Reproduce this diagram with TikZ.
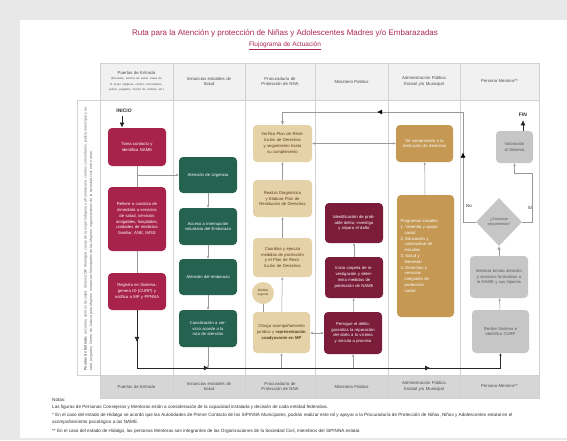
\documentclass[tikz,border=0pt]{standalone}
\usepackage{fontspec}
\setmainfont{Liberation Sans}
\usetikzlibrary{calc,shapes,arrows,arrows.meta,positioning,decorations.markings}

\definecolor{fondo}{RGB}{232,232,232}
\definecolor{titulo}{RGB}{172,40,82}
\definecolor{ruta}{RGB}{168,35,75}
\definecolor{verde}{RGB}{38,98,80}
\definecolor{arena}{RGB}{230,210,168}
\definecolor{marron}{RGB}{90,60,30}
\definecolor{oro}{RGB}{197,152,84}
\definecolor{vino}{RGB}{122,28,58}
\definecolor{gris}{RGB}{198,198,198}
\definecolor{cabecera}{RGB}{241,241,241}
\definecolor{pie}{RGB}{214,214,214}

\tikzset{
  caja/.style={rounded corners=4pt, align=center, inner sep=1pt, text width=50pt,
    minimum width=58pt, font=\fontsize{4.2}{5.8}\selectfont},
  cajaroja/.style={caja, fill=ruta, text=white},
  cajaverde/.style={caja, fill=verde, text=white},
  cajaarena/.style={caja, fill=arena, text=marron},
  cajaoro/.style={caja, fill=oro, text=white},
  cajavino/.style={caja, fill=vino, text=white},
  cajagris/.style={caja, fill=gris, text=black!65},
  encab/.style={font=\fontsize{4.3}{5.6}\selectfont, text=black!70, align=center, text width=62pt},
  rejilla/.style={draw=black!18, line width=0.5pt},
  conn/.style={draw=black!40, line width=0.5pt, -{Latex[length=2.5pt,width=2.5pt]}, color=black!40},
  principal/.style={draw=black!85, line width=0.7pt},
  punta/.style={-{Latex[length=5pt,width=5pt]}},
  nota/.style={font=\fontsize{4.6}{5}\selectfont, text=black!80, inner sep=0pt, anchor=west},
}

\begin{document}
\begin{tikzpicture}[x=1pt,y=-1pt]
  \fill[fondo] (0,0) rectangle (567,440);
  \fill[white] (20,20) rectangle (567,438);
  \useasboundingbox (0,0) rectangle (567,440);

  % titulo
  \node[text=titulo, font=\fontsize{8}{9}\selectfont] (tit) at (285,33)
    {Ruta para la Atención y protección de Niñas y Adolescentes Madres y/o Embarazadas};
  \node[text=titulo, font=\fontsize{6.5}{8}\selectfont] (subtit) at (285,46)
    {\underline{Flujograma de Actuación}};

  % tabla
  \fill[cabecera] (100,63) rectangle (539,100);
  \fill[pie] (100,375) rectangle (539,398);
  \draw[rejilla] (100,63) rectangle (539,398);
  \draw[rejilla] (100,100) -- (539,100);
  \draw[rejilla] (100,375) -- (539,375);
  \foreach \x in {173,245,315,388,460}
    \draw[rejilla] (\x,63) -- (\x,398);
  \draw[rejilla] (77,100) rectangle (100,375);

  \node[encab] (h1) at (136.5,81.5) {Puertas de Entrada\\[-1pt]
    {\fontsize{2.8}{3.5}\selectfont (Escuelas, centros de salud, casas de la mujer indígena, centros comunitarios, policía, juzgados, Centro de Justicia, etc.)}};
  \foreach \n/\x/\t in {2/209/{Instancias estatales de\\Salud},
      3/280/{Procuraduría de\\Protección de NNA},
      4/351.5/{Ministerio Público},
      5/424/{Administración Pública\\Estatal y/o Municipal},
      6/499.5/{Persona Mentora**}}
    \node[encab] (h\n) at (\x,81.5) {\t};
  \foreach \n/\x/\t in {1/136.5/{Puertas de Entrada},
      2/209/{Instancias estatales de\\Salud},
      3/280/{Procuraduría de\\Protección de NNA},
      4/351.5/{Ministerio Público},
      5/424/{Administración Pública\\Estatal y/o Municipal},
      6/499.5/{Persona Mentora**}}
    \node[encab] (f\n) at (\x,386.5) {\t};

  \node[rotate=90, text width=266pt, align=left, text=black!60, inner sep=0pt,
    font=\fontsize{3.6}{5.5}\selectfont] (banda) at (88.5,237.5)
    {\textbf{Puertas de Entrada:} escuelas, centros de salud, Sistema DIF Municipal, casas de la mujer indígena o afromexicana, centros comunitarios, policía municipal y estatal, juzgados, Centro de Justicia para Mujeres, Instancias Municipales de las Mujeres, organizaciones de la sociedad civil, entre otras.};

  % Puertas de entrada
  \node[font=\bfseries\fontsize{5}{6}\selectfont, text=black!80] (inicio) at (124,111) {INICIO};
  \node[cajaroja, minimum height=38pt] (b1) at (137,147) {Toma contacto y identifica NAME};
  \node[cajaroja, minimum height=64pt] (b2) at (137,219) {Refiere o canaliza de inmediato a servicios de salud, servicios amigables, hospitales, unidades de medicina familiar, ANE, IMSS};
  \node[cajaroja, minimum height=37pt] (b3) at (137,291.5) {Registra en Sistema, genera ID (CURP) y notifica a MP y PPNNA};

  % Instancias de salud
  \node[cajaverde, minimum height=36pt] (g1) at (208,175) {Atención de Urgencia};
  \node[cajaverde, minimum height=37pt] (g2) at (208,226.5) {Acceso a interrupción voluntaria del Embarazo};
  \node[cajaverde, minimum height=36pt] (g3) at (208,277) {Atención del embarazo};
  \node[cajaverde, minimum height=37pt] (g4) at (208,328.5) {Canalización a servicio acorde a la ruta de atención};

  % Procuraduria
  \node[cajaarena, minimum width=59pt, minimum height=37pt] (p1) at (282.5,143.5) {Verifica Plan de Restitución de Derechos y seguimiento hasta su cumplimiento};
  \node[cajaarena, minimum width=59pt, minimum height=37pt] (p2) at (282.5,198.5) {Realiza Diagnóstico y Elabora Plan de Restitución de Derechos};
  \node[cajaarena, minimum width=59pt, minimum height=39pt] (p3) at (282.5,257.5) {Coordina y ejecuta medidas de protección y el Plan de Restitución de Derechos};
  \node[circle, fill=arena, text=marron, minimum size=22pt, inner sep=0pt, align=center,
    font=\fontsize{3.2}{4}\selectfont] (urg) at (263,293) {Medida\\urgente};
  \node[cajaarena, minimum width=57pt, minimum height=41pt] (p4) at (281.5,332.5) {Otorga acompañamiento jurídico y \textbf{representación coadyuvante en MP}};

  % Ministerio publico
  \node[cajavino, minimum height=40pt] (m1) at (354,223) {Identificación de probable delito; investiga y repara el daño};
  \node[cajavino, minimum height=41pt] (m2) at (354,277.5) {Inicia carpeta de investigación y determina medidas de protección de NAME};
  \node[cajavino, minimum height=42pt] (m3) at (353,333) {Persigue el delito, garantiza la reparación del daño a la víctima y vincula a proceso};

  % Administracion publica
  \node[cajaoro, minimum width=57pt, minimum height=37pt] (a1) at (424.5,143.5) {Se compromete a la restitución de derechos};
  \node[cajaoro, minimum width=57pt, minimum height=122pt, align=left] (a2) at (425.5,256)
    {Programas sociales:\\ 1.\ Vivienda y apoyo\\ \quad social\\ 2.\ Educación y\\ \quad continuidad de\\ \quad estudios\\ 3.\ Salud y\\ \quad bienestar\\ 4.\ Derechos y\\ \quad servicios\\ \quad integrales de\\ \quad protección\\ \quad social};

  % Persona mentora
  \node[font=\bfseries\fontsize{5}{6}\selectfont, text=black!80] (fin) at (523,115) {FIN};
  \node[cajagris, text width=31pt, minimum width=37pt, minimum height=32pt] (v) at (514.5,147) {Valoración al Sistema};
  \node[diamond, fill=gris, text=black!65, minimum width=46pt, minimum height=48pt, inner sep=0pt,
    align=center, font=\fontsize{3.8}{4.8}\selectfont] (d) at (499,222) {¿Concluye\\seguimiento?};
  \node[cajagris, minimum height=42pt] (s1) at (499,277) {Mentora brinda atención y servicios formativos a la NAME y sus hijas/os};
  \node[cajagris, minimum width=57pt, minimum height=43pt] (s2) at (500.5,331.5) {Recibe Sistema e identifica CURP};
  \node[font=\fontsize{4.5}{5}\selectfont, text=black!80] (no) at (469,205.5) {No};
  \node[font=\fontsize{4.5}{5}\selectfont, text=black!80] (si) at (530,208) {Sí};

  % conectores
  \coordinate (juntaA) at (137,175);
  \coordinate (bizq) at (137,368);
  \coordinate (bder) at (500.5,368);
  \coordinate (lazoA) at (463,222);
  \coordinate (lazoB) at (463,112);
  \coordinate (lazoC) at (282.5,112);
  \coordinate (siA) at (532,222);
  \coordinate (siB) at (532,173);
  \coordinate (siC) at (514.5,173);

  \draw[principal, punta] (inicio.south -| 122,0) -- (122,127.5);
  \draw[conn, -] (b1) -- (b2);
  \draw[conn] (juntaA) -- (g1.west);
  \draw[conn, -] (b2) -- (b3);
  \draw[conn] (g1) -- (g2);
  \draw[conn] (g2) -- (g3);
  \draw[conn] (g3) -- (g4);
  \draw[conn] (g4) -- (g4 |- bizq);
  \draw[conn] (p4) -- (p3);
  \draw[conn] (p3) -- (p2);
  \draw[conn] (p2) -- (p1);
  \draw[conn, -] (urg) -- (urg |- p4.north);
  \draw[conn] (p4 |- bizq) -- (p4);
  \draw[conn] (m3) -- (m2);
  \draw[conn] (m2) -- (m1);
  \draw[conn] (m3 |- bizq) -- (m3);
  \draw[conn, {Latex[length=2.5pt,width=2.5pt]}-{Latex[length=2.5pt,width=2.5pt]}] (p4.east |- 0,333) -- (m3.west |- 0,333);
  \draw[conn, {Latex[length=2.5pt,width=2.5pt]}-{Latex[length=2.5pt,width=2.5pt]}] (p1) -- (a1);
  \draw[conn] (a2) -- (a1);
  \draw[conn] (s2) -- (s1);
  \draw[conn, -{Latex[length=3.5pt,width=3.5pt]}] (s1) -- (d);
  \draw[conn] (d.east) -- (siA) -- (siB) -- (siC) -- (v.south);
  \draw[principal, punta] (v.north -| fin.south) -- (fin.south);

  \draw[conn, -{Latex[length=3.5pt,width=3.5pt]}, postaction={decorate},
    decoration={markings,
      mark=at position 0.26 with {\arrow[black]{Latex[length=5pt,width=5pt]}},
      mark=at position 0.66 with {\arrow[black]{Latex[length=5pt,width=5pt]}}}]
    (d.west) -- (lazoA) -- (lazoB) -- (lazoC) -- (p1.north);

  \draw[principal, postaction={decorate},
    decoration={markings, mark=at position 0.55 with {\arrow{Latex[length=5pt,width=5pt]}}}]
    (b3) -- (bizq);
  \draw[principal, -{Latex[length=2.5pt,width=2.5pt]}, postaction={decorate},
    decoration={markings,
      mark=at position 0.19 with {\arrow{Latex[length=5pt,width=5pt]}},
      mark=at position 0.775 with {\arrow{Latex[length=5pt,width=5pt]}}}]
    (bizq) -- (bder) -- (s2);

  % notas
  \node[nota] (n0) at (52,400) {Notas:};
  \node[nota] (n1) at (52,407.5) {Las figuras de Personas Consejeras y Mentoras están a consideración de la capacidad instalada y decisión de cada entidad federativa.};
  \node[nota] (n2) at (52,415.5) {* En el caso del estado de Hidalgo se acordó que las Autoridades de Primer Contacto de los SIPINNA Municipales, podrán realizar este rol y apoyar a la Procuraduría de Protección de Niñas, Niños y Adolescentes estatal en el};
  \node[nota] (n3) at (52,422.5) {acompañamiento psicológico a las NAME.};
  \node[nota] (n4) at (52,431) {** En el caso del estado de Hidalgo, las personas Mentoras son integrantes de las Organizaciones de la Sociedad Civil, miembros del SIPINNA estatal.};
\end{tikzpicture}
\end{document}
